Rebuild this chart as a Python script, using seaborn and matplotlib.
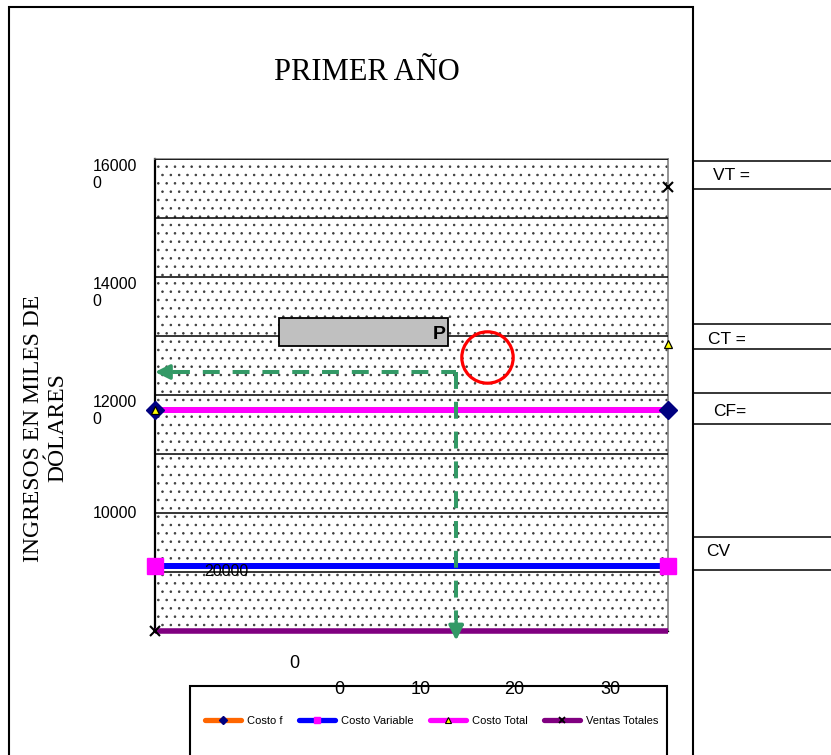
import matplotlib
matplotlib.use("Agg")
import matplotlib.pyplot as plt
from matplotlib.lines import Line2D
from matplotlib.patches import Rectangle
import seaborn as sns

# ---------------------------------------------------------------- data
x_points = [0, 10]                     # first and last period
costo_fijo = [117400, 117400]
costo_variable = [91000, 91000]
costo_total = [117400, 128600]
ventas_totales = [80000, 155300]

series_names = ["Costo f", "Costo Variable", "Costo Total", "Ventas Totales"]

y_ticks = [90000, 100000, 110000, 120000, 130000, 140000, 150000, 160000]
y_tick_labels = ["", "10000", "", "12000\n0", "", "14000\n0", "", "16000\n0"]
x_ticks = list(range(11))
x_axis_labels = ["0", "0", "10", "20", "30"]
stray_label = "20000"
side_labels = ["VT =", "CT =", "CF=", "CV"]

# break-even guide, "P" box and highlight circle (data units)
equilibrio_x = 5.87
equilibrio_y = 123900
p_box_x = [2.42, 5.71]
p_box_y = [128300, 133050]
circle_center = (6.47, 126440)

# ---------------------------------------------------------------- style
sns.set_style("white")
plt.rcParams["font.family"] = ["Liberation Sans", "DejaVu Sans"]
plt.rcParams["hatch.linewidth"] = 0.6
for key in ("text.color", "axes.labelcolor", "xtick.color", "ytick.color"):
    plt.rcParams[key] = "black"

ORANGE, NAVY = "#FF6600", "#000080"
BLUE, MAGENTA = "#0000FF", "#FF00FF"
PURPLE, YELLOW = "#800080", "#FFFF00"
GREEN = "#339966"
SERIF = ["Liberation Serif", "DejaVu Serif"]

W, H = 831, 755
fig = plt.figure(figsize=(W / 100, H / 100), dpi=100)
fig.patch.set_facecolor("white")

# plot area
left, right, top, bottom = 155, 668, 159, 631
ax = fig.add_axes([left / W, 1 - bottom / H, (right - left) / W, (bottom - top) / H])
ax.set_xlim(0, 10)
ax.set_ylim(80000, 160000)

# stippled background
ax.add_patch(Rectangle((0, 0), 1, 1, transform=ax.transAxes, facecolor="white",
                       edgecolor="#3c3c3c", hatch="..", lw=0, zorder=0))

# y axis: gridline every 10000
ax.set_yticks(y_ticks)
ax.set_yticklabels(y_tick_labels)
ax.yaxis.grid(True, color="black", lw=1.1, zorder=1)
ax.set_axisbelow(False)
for lab in ax.get_yticklabels():
    lab.set_fontsize(11.5)
    lab.set_color("black")
    lab.set_multialignment("left")
    lab.set_verticalalignment("top" if "\n" in lab.get_text() else "center")
ax.tick_params(axis="y", direction="out", length=4.5, width=1.1, color="black", pad=8.5)

ax.set_xticks(x_ticks)
ax.set_xticklabels([""] * len(x_ticks))
ax.tick_params(axis="x", direction="out", length=2.5, width=1.0, color="black")

for side in ("top", "right"):
    ax.spines[side].set_color("#808080")
    ax.spines[side].set_linewidth(1.2)
ax.spines["left"].set_color("black")
ax.spines["left"].set_linewidth(1.6)
ax.spines["bottom"].set_color("black")
ax.spines["bottom"].set_linewidth(1.0)

# series lines
common = dict(ax=ax, legend=False, solid_capstyle="butt", clip_on=False)
sns.lineplot(x=x_points, y=costo_fijo, color=ORANGE, lw=4.3, zorder=2, **common)
sns.lineplot(x=x_points, y=[costo_total[0]] * 2, color=MAGENTA, lw=4.3, zorder=3, **common)
sns.lineplot(x=x_points, y=costo_variable, color=BLUE, lw=4.3, zorder=3, **common)
sns.lineplot(x=x_points, y=[ventas_totales[0]] * 2, color=PURPLE, lw=4.0, zorder=3, **common)

# series markers
ax.plot(x_points, costo_variable, ls="none", marker="s", ms=11, mfc=MAGENTA,
        mec=MAGENTA, zorder=4, clip_on=False)
ax.plot(x_points, costo_fijo, ls="none", marker="D", ms=9, mfc=NAVY,
        mec=NAVY, zorder=5, clip_on=False)
ax.plot(x_points, costo_total, ls="none", marker="^", ms=5.5, mfc=YELLOW,
        mec="black", mew=0.9, zorder=6, clip_on=False)
ax.plot(x_points, ventas_totales, ls="none", marker="x", ms=6.5, color="black",
        mew=1.5, zorder=6, clip_on=False)

# "P" box
ax.add_patch(Rectangle((p_box_x[0], p_box_y[0]), p_box_x[1] - p_box_x[0],
                       p_box_y[1] - p_box_y[0], facecolor="#C0C0C0",
                       edgecolor="black", lw=1.3, zorder=5))
ax.text(p_box_x[1] - 0.04, sum(p_box_y) / 2 - 500, "P", ha="right", va="center",
        fontsize=14, fontweight="bold", color="black", zorder=6)

# break-even guide arrows
dash = dict(color=GREEN, lw=2.9, dashes=(4.2, 3.2), zorder=7, clip_on=False,
            solid_capstyle="butt", dash_capstyle="butt")
ax.plot([0.35, equilibrio_x], [equilibrio_y] * 2, **dash)
ax.plot([equilibrio_x] * 2, [equilibrio_y, 81800], **dash)
head = dict(arrowstyle="-|>", mutation_scale=22, color=GREEN, lw=2.5,
            shrinkA=0, shrinkB=0)
ax.annotate("", xy=(0, equilibrio_y), xytext=(14, 0), textcoords="offset points",
            arrowprops=head, zorder=7, annotation_clip=False)
ax.annotate("", xy=(equilibrio_x, 78400), xytext=(0, 14), textcoords="offset points",
            arrowprops=head, zorder=7, annotation_clip=False)

# highlight circle
ax.plot([circle_center[0]], [circle_center[1]], marker="o", ms=37, mfc="none",
        mec="red", mew=2.3, zorder=8, clip_on=False)

# ---------------------------------------------------------------- page overlay (pixel coordinates)
ov = fig.add_axes([0, 0, 1, 1])
ov.set_xlim(0, W)
ov.set_ylim(H, 0)
ov.axis("off")
ov.patch.set_visible(False)

# chart frame
ov.plot([9, 9, 693, 693], [H + 5, 7, 7, H + 5], color="black", lw=1.5,
        solid_joinstyle="miter", clip_on=False)

# side boxes
for yy in [161, 189, 324, 349, 393, 424, 537, 570]:
    ov.plot([693, W + 2], [yy, yy], color="black", lw=1.1, clip_on=False)
for txt, (tx, ty) in zip(side_labels, [(713, 176), (708, 339), (713, 412), (706, 552)]):
    ov.text(tx, ty, txt, fontsize=12.5, ha="left", va="center", color="black")

# title and axis title
ov.text(367, 73, "PRIMER AÑO", fontsize=22, family=SERIF, ha="center", va="center",
        color="black")
ov.text(46, 428, "INGRESOS EN MILES DE\nDÓLARES", fontsize=17, family=SERIF,
        rotation=90, ha="center", va="center", multialignment="center",
        linespacing=1.2, color="black")

# loose category labels
for txt, (tx, ty) in zip(x_axis_labels, [(294, 664), (339, 690), (421, 690),
                                          (514, 690), (610, 690)]):
    ov.text(tx, ty, txt, fontsize=13, ha="center", va="center", color="black", zorder=5)
ov.text(226, 571, stray_label, fontsize=11.5, ha="center", va="center", color="black",
        zorder=5)

# legend box
ov.add_patch(Rectangle((190, 686), 667 - 190, 90, facecolor="white",
                       edgecolor="black", lw=1.5, clip_on=False, zorder=1))

handles = [
    Line2D([], [], color=ORANGE, lw=3.8, marker="D", ms=4.5, mfc=NAVY, mec=NAVY),
    Line2D([], [], color=BLUE, lw=3.8, marker="s", ms=5, mfc=MAGENTA, mec=MAGENTA),
    Line2D([], [], color=MAGENTA, lw=3.8, marker="^", ms=4.5, mfc=YELLOW, mec="black", mew=0.8),
    Line2D([], [], color=PURPLE, lw=3.8, marker="x", ms=4.5, mec="black", mew=1.3),
]
leg = fig.legend(handles, series_names, ncol=4, loc="center",
                 bbox_to_anchor=(431.5 / W, 1 - 721 / H), frameon=False,
                 fontsize=8, handlelength=3.25, handletextpad=0.5,
                 columnspacing=1.5, labelcolor="black")
leg.set_zorder(10)

fig.savefig("out.png", dpi=100, facecolor="white")
